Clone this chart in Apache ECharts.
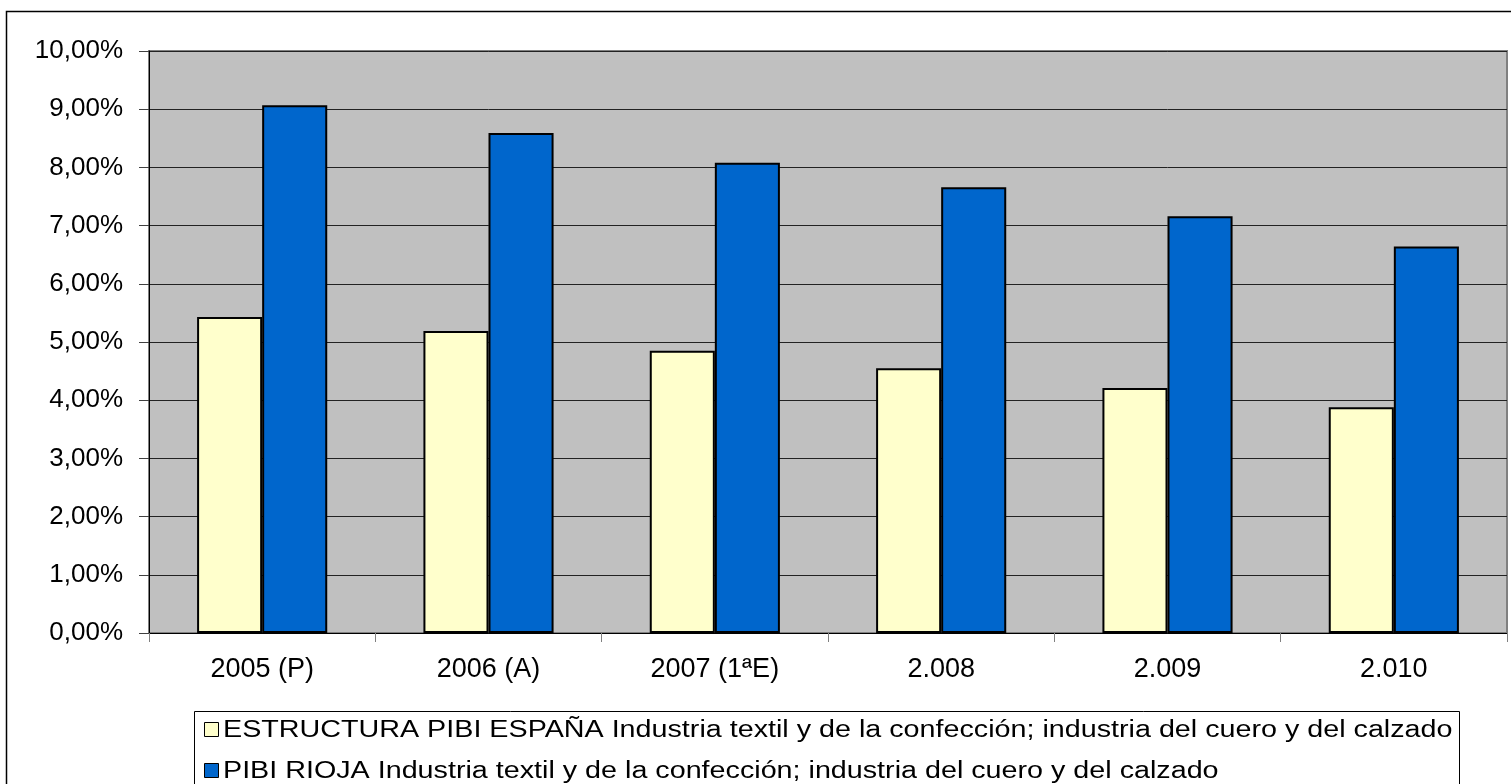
<!DOCTYPE html>
<html>
<head>
<meta charset="utf-8">
<script src="https://cdn.jsdelivr.net/npm/echarts@6/dist/echarts.min.js"></script>
<style>
html,body{margin:0;padding:0;background:#fff;}
#c{width:1511px;height:784px;}
</style>
</head>
<body>
<div id="c"></div>
<script>
var categories = ['2005 (P)', '2006 (A)', '2007 (1ªE)', '2.008', '2.009', '2.010'];
var seriesNames = [
  'ESTRUCTURA PIBI ESPAÑA Industria textil y de la confección; industria del cuero y del calzado',
  'PIBI RIOJA Industria textil y de la confección; industria del cuero y del calzado'
];
var espana = [5.43, 5.19, 4.85, 4.55, 4.21, 3.88];
var rioja = [9.07, 8.59, 8.08, 7.66, 7.16, 6.64];
var yMin = 0, yMax = 10, yStep = 1;

var COLORS = ['#FFFFCC', '#0066CC'];
var FONT = '"Liberation Sans", Arial, sans-serif';
var LEG_FONT = '23px "Liberation Sans", Arial, sans-serif';
var LEG_SCALE = 1.248;

var chart = echarts.init(document.getElementById('c'), null, {renderer: 'canvas'});

var legendGraphics = [{
  type: 'rect', silent: true, z: 100,
  shape: {x: 194.5, y: 711.5, width: 1265, height: 120},
  style: {fill: '#ffffff', stroke: '#000000', lineWidth: 1}
}];
seriesNames.forEach(function (name, i) {
  var cy = 730 + i * 41;
  legendGraphics.push({
    type: 'rect', silent: true, z: 101,
    shape: {x: 204.5, y: cy - 7.5, width: 14, height: 14},
    style: {fill: COLORS[i], stroke: '#000000', lineWidth: 1}
  });
  legendGraphics.push({
    type: 'text', silent: true, z: 101,
    x: 223, y: cy + 1, scaleX: LEG_SCALE,
    style: {text: name, x: 0, y: 0, font: LEG_FONT, fill: '#000', textVerticalAlign: 'middle', textAlign: 'left'}
  });
});

chart.setOption({
  animation: false,
  backgroundColor: '#ffffff',
  graphic: [{
    type: 'rect', z: -10, silent: true,
    shape: {x: 6.5, y: 11.5, width: 1530, height: 800},
    style: {fill: '#ffffff', stroke: '#000000', lineWidth: 1.5}
  }].concat(legendGraphics),
  grid: {
    left: 149, top: 51, right: 4, bottom: 151,
    show: true, backgroundColor: '#C0C0C0', borderColor: '#808080', borderWidth: 2
  },
  legend: {show: false, data: seriesNames},
  xAxis: {
    type: 'category',
    data: categories,
    axisLine: {show: true, lineStyle: {color: '#000', width: 1}},
    axisTick: {show: true, length: 9, interval: 0, lineStyle: {color: '#808080', width: 1}},
    axisLabel: {margin: 23, fontFamily: FONT, fontSize: 27, color: '#000', interval: 0},
    splitLine: {show: false}
  },
  yAxis: {
    type: 'value',
    min: yMin, max: yMax, interval: yStep,
    axisLine: {show: true, lineStyle: {color: '#000', width: 1}},
    axisTick: {show: true, length: 10, lineStyle: {color: '#404040', width: 1}},
    axisLabel: {
      margin: 26, fontFamily: FONT, fontSize: 26, color: '#000',
      formatter: function (v) { return v.toFixed(2).replace('.', ',') + '%'; }
    },
    splitLine: {show: true, lineStyle: {color: '#222', width: 1}}
  },
  series: [{
    name: seriesNames[0], type: 'bar', data: espana,
    barGap: '0%', barCategoryGap: '42.5%',
    itemStyle: {color: COLORS[0], borderColor: '#000', borderWidth: 2}
  }, {
    name: seriesNames[1], type: 'bar', data: rioja,
    barGap: '0%', barCategoryGap: '42.5%',
    itemStyle: {color: COLORS[1], borderColor: '#000', borderWidth: 2}
  }]
});
</script>
</body>
</html>
